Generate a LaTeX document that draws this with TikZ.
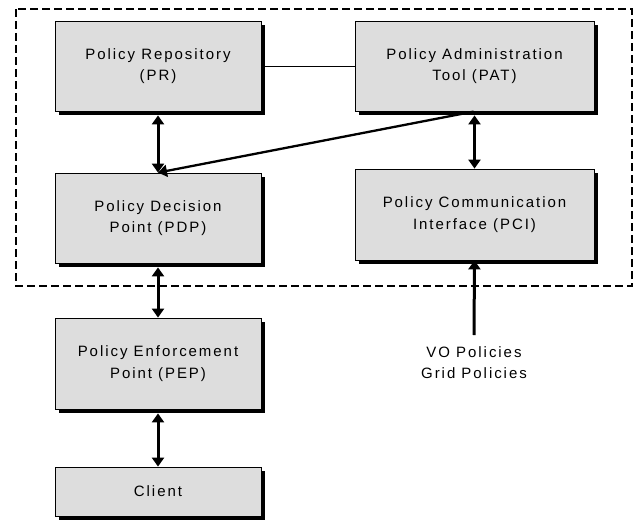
\documentclass[tikz,border=0pt]{standalone}
\usepackage{fontspec}
\setmainfont{Liberation Sans}[LetterSpace=13]
\usetikzlibrary{arrows.meta,shadows}
\definecolor{boxgray}{RGB}{221,221,221}
\tikzset{
  pbox/.style={draw=black, line width=0.8pt, fill=boxgray,
    drop shadow={shadow xshift=4pt, shadow yshift=-4pt, fill=black, opacity=1},
    inner sep=0pt, align=center,
    font=\fontsize{15}{21.5}\selectfont},
  tip/.tip={Triangle[length=9pt,width=12pt]},
  flow/.style={line width=3pt, -tip},
  both/.style={line width=3pt, tip-tip},
  frame/.style={line width=2pt, dash pattern=on 8pt off 4pt},
}
\begin{document}
\begin{tikzpicture}[x=1pt,y=-1pt]
\useasboundingbox (0,0) rectangle (636,519);

% domain boundary
\draw[frame] (16,9) rectangle (632,286);

% components
\node[pbox, minimum width=206pt, minimum height=90pt] (PR) at (158,66)
  {Policy Repository\\(PR)};
\node[pbox, minimum width=239pt, minimum height=90pt] (PAT) at (474.5,66)
  {Policy Administration\\Tool (PAT)};
\node[pbox, minimum width=206pt, minimum height=90pt] (PDP) at (158,218)
  {Policy Decision\\Point (PDP)};
\node[pbox, minimum width=239pt, minimum height=91pt] (PCI) at (474.5,214.5)
  {Policy Communication\\Interface (PCI)};
\node[pbox, minimum width=206pt, minimum height=91pt] (PEP) at (158,363.5)
  {Policy Enforcement\\Point (PEP)};
\node[pbox, minimum width=206pt, minimum height=49pt] (CL) at (158,491.5)
  {Client};

% policy sources
\node[align=center, inner sep=0pt, font=\fontsize{15}{21}\selectfont] (SRC) at (474,363)
  {VO Policies\\Grid Policies};
\coordinate (SRCtop) at (474,335);

% connectors
\draw[line width=1pt] (PR.east) -- (PAT.west);
\draw[both, shorten <=4pt] (PR.south) -- (PDP.north);
\draw[both, shorten <=4pt] (PAT.south) -- (PCI.north);
\draw[flow, line width=2.3pt, shorten <=1pt] (PAT.south) -- (PDP.north);
\draw[both, shorten <=4pt] (PDP.south) -- (PEP.north);
\draw[both, shorten <=4pt] (PEP.south) -- (CL.north);
\draw[flow] (SRCtop) -- (PCI.south);
\end{tikzpicture}
\end{document}
